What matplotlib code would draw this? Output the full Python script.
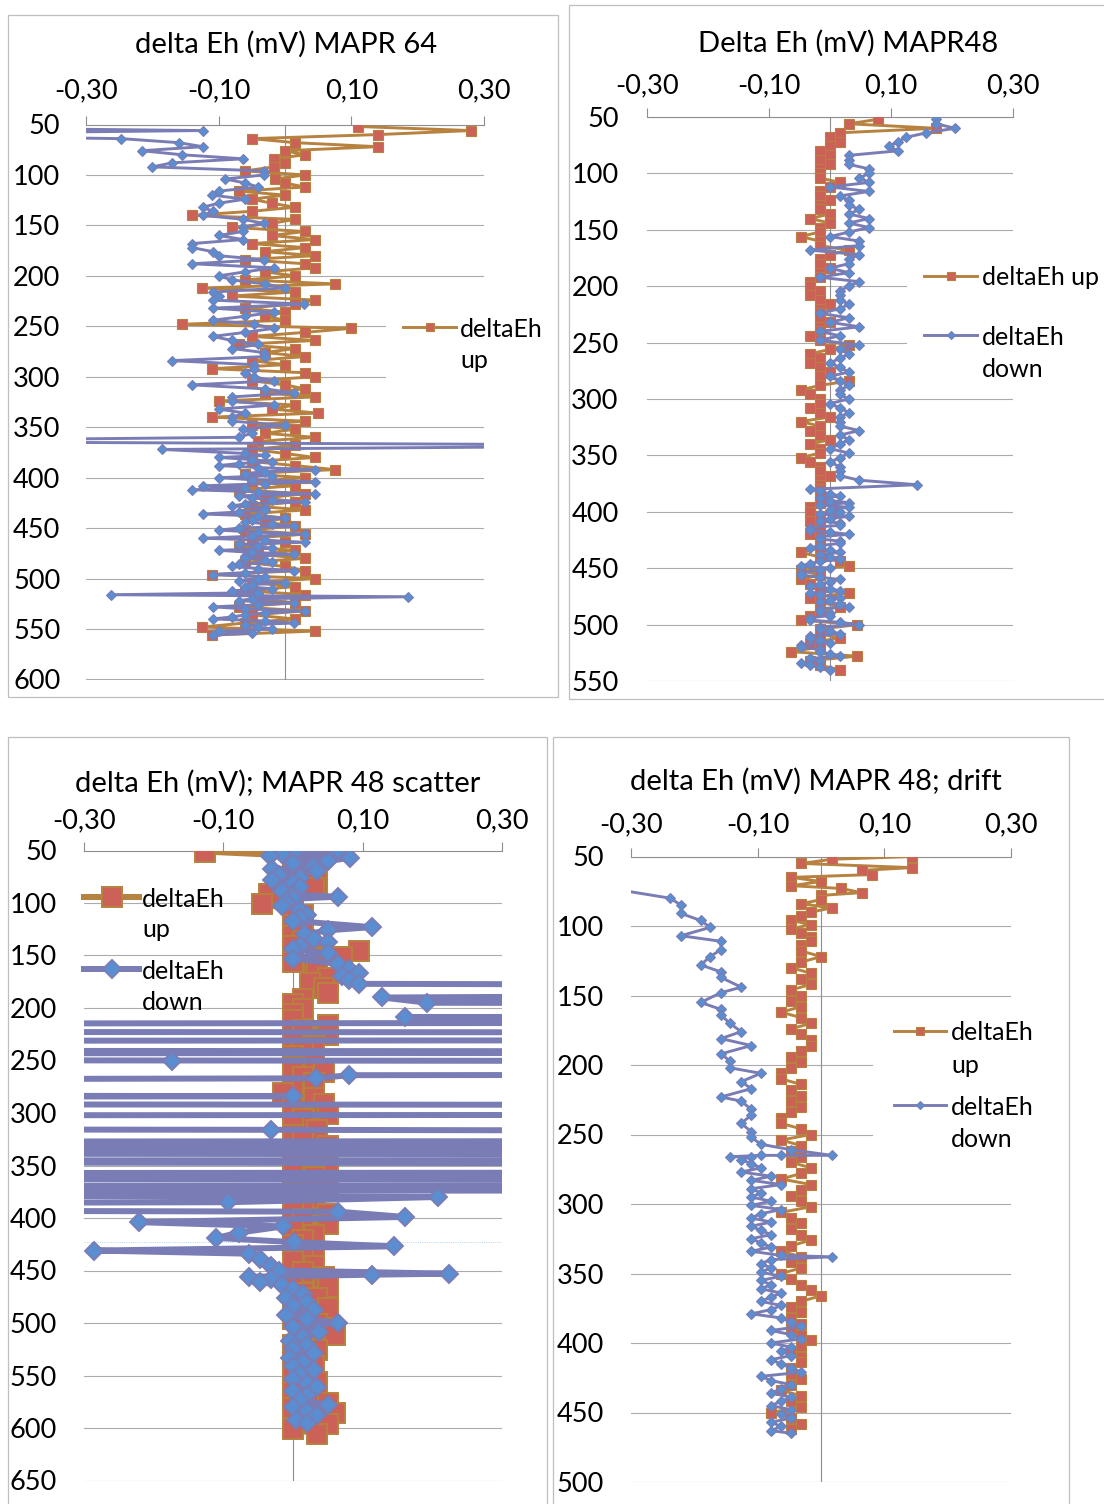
import matplotlib.pyplot as plt
from matplotlib.lines import Line2D
from matplotlib.patches import Rectangle
from matplotlib.ticker import FuncFormatter

plt.rcParams["font.family"] = ["Lato", "DejaVu Sans"]

# ---------------- data ----------------
# delta Eh (mV) MAPR 64
depth_64 = [52, 56, 60, 64, 68, 72, 76, 80, 84, 88,
            92, 96, 100, 104, 108, 112, 116, 120, 124, 128,
            132, 136, 140, 144, 148, 152, 156, 160, 164, 168,
            172, 176, 180, 184, 188, 192, 196, 200, 204, 208,
            212, 216, 220, 224, 228, 232, 236, 240, 244, 248,
            252, 256, 260, 264, 268, 272, 276, 280, 284, 288,
            292, 296, 300, 304, 308, 312, 316, 320, 324, 328,
            332, 336, 340, 344, 348, 352, 356, 360, 364, 368,
            372, 376, 380, 384, 388, 392, 396, 400, 404, 408,
            412, 416, 420, 424, 428, 432, 436, 440, 444, 448,
            452, 456, 460, 464, 468, 472, 476, 480, 484, 488,
            492, 496, 500, 504, 508, 512, 516, 520, 524, 528,
            532, 536, 540, 544, 548, 552, 556]
up_64 = [0.11, 0.28, 0.14, -0.05, 0.015, 0.14, 0.0, 0.03, -0.017, 0.0,
         -0.017, -0.06, 0.03, -0.015, 0.0, 0.03, -0.07, 0.0, -0.05, -0.02,
         0.015, -0.05, -0.14, 0.015, -0.02, -0.08, 0.03, -0.02, 0.045, -0.05,
         0.03, -0.03, 0.045, -0.06, 0.03, 0.045, -0.03, 0.015, -0.06, 0.075,
         -0.125, 0.015, -0.08, 0.045, 0.015, -0.06, 0.0, -0.03, 0.0, -0.155,
         0.1, 0.03, -0.05, 0.045, -0.07, 0.015, -0.03, 0.03, -0.05, 0.0,
         -0.11, 0.03, 0.045, -0.05, 0.0, 0.03, -0.03, 0.045, -0.1, 0.015,
         -0.02, 0.05, -0.11, 0.03, -0.05, 0.015, -0.03, 0.045, -0.04, 0.015,
         -0.05, 0.0, 0.045, -0.05, 0.015, 0.075, -0.06, 0.03, -0.05, 0.015,
         -0.07, 0.03, -0.03, 0.015, -0.05, 0.03, -0.06, 0.0, -0.03, 0.015,
         -0.06, 0.03, -0.05, 0.0, -0.07, 0.015, -0.04, 0.03, -0.06, 0.0,
         0.03, -0.11, 0.045, -0.05, 0.015, -0.06, 0.03, -0.04, 0.015, -0.07,
         0.03, -0.05, 0.015, -0.06, -0.125, 0.045, -0.11]
depth_64_down = [52, 56, 60, 64, 68, 72, 76, 80, 84, 88,
                 92, 96, 100, 104, 108, 112, 116, 120, 124, 128,
                 132, 136, 140, 144, 148, 152, 156, 160, 164, 168,
                 172, 176, 180, 184, 188, 192, 196, 200, 204, 208,
                 212, 216, 220, 224, 228, 232, 236, 240, 244, 248,
                 252, 256, 260, 264, 268, 272, 276, 280, 284, 288,
                 292, 296, 300, 304, 308, 312, 316, 320, 324, 328,
                 332, 336, 340, 344, 348, 352, 356, 360, 364, 368,
                 372,
                 376, 378, 380, 382, 384, 386, 388, 390, 392, 394,
                 396, 398, 400, 402, 404, 406, 408, 410, 412, 414,
                 416, 418, 420, 422, 424, 426, 428, 430, 432, 434,
                 436, 438, 440, 442, 444, 446, 448, 450, 452, 454,
                 456, 458, 460, 462, 464, 466, 468, 470, 472, 474,
                 476, 478, 480, 482, 484, 486, 488, 490, 492, 494,
                 496, 498, 500, 502, 504, 506, 508, 510, 512, 514,
                 516, 518, 520, 522, 524, 526, 528, 530, 532, 534,
                 536, 538, 540, 542, 544, 546, 548, 550, 552, 554,
                 556]
down_64 = [-0.7, -0.124, -0.7, -0.247, -0.16, -0.124, -0.216, -0.155, -0.063, -0.17,
           -0.2, -0.032, -0.032, -0.09, -0.06, -0.04, -0.1, -0.11, -0.06, -0.1,
           -0.124, -0.109, -0.124, -0.063, -0.032, -0.063, -0.063, -0.1, -0.063, -0.14,
           -0.14, -0.109, -0.1, -0.032, -0.14, -0.017, -0.06, -0.1, -0.08, -0.03,
           0.0, -0.109, -0.1, -0.109, 0.029, -0.109, -0.017, -0.06, -0.109, -0.047,
           -0.017, -0.06, -0.109, -0.08, -0.04, -0.08, -0.032, -0.03, -0.171, -0.047,
           -0.047, -0.06, -0.047, -0.017, -0.14, -0.03, 0.014, -0.08, -0.08, -0.017,
           -0.1, -0.06, -0.08, -0.08, 0.0, -0.063, -0.05, -0.07, -0.7, 0.7,
           -0.186,
           -0.06, -0.03, -0.1, -0.05, -0.02, -0.07, -0.1, -0.04, 0.045, -0.03,
           -0.06, -0.02, -0.1, -0.05, 0.045, -0.03, -0.124, -0.06, -0.14, -0.04,
           0.045, -0.07, -0.05, -0.02, 0.03, -0.06, -0.08, -0.03, -0.03, -0.07,
           -0.124, -0.04, 0.0, -0.05, -0.06, -0.02, 0.014, -0.07, -0.1, -0.04,
           0.03, -0.05, -0.124, -0.03, 0.03, -0.07, -0.04, -0.02, -0.1, -0.05,
           0.014, -0.06, -0.06, -0.03, -0.02, -0.07, -0.08, -0.04, 0.014, -0.06,
           -0.109, -0.03, -0.04, -0.07, 0.0, -0.05, -0.06, -0.02, -0.08, -0.04,
           -0.262, 0.185, -0.05, -0.07, 0.014, -0.04, -0.109, -0.06, 0.03, -0.03,
           -0.06, -0.08, -0.109, -0.03, 0.014, -0.06, -0.04, -0.02, -0.1, -0.05,
           -0.109]

# Delta Eh (mV) MAPR48
depth_48 = [52, 56, 60, 64, 68, 72, 76, 80, 84, 88,
            92, 96, 100, 104, 108, 112, 116, 120, 124, 128,
            132, 136, 140, 144, 148, 152, 156, 160, 164, 168,
            172, 176, 180, 184, 188, 192, 196, 200, 204, 208,
            212, 216, 220, 224, 228, 232, 236, 240, 244, 248,
            252, 256, 260, 264, 268, 272, 276, 280, 284, 288,
            292, 296, 300, 304, 308, 312, 316, 320, 324, 328,
            332, 336, 340, 344, 348, 352, 356, 360, 364, 368,
            372, 376, 380, 384, 388, 392, 396, 400, 404, 408,
            412, 416, 420, 424, 428, 432, 436, 440, 444, 448,
            452, 456, 460, 464, 468, 472, 476, 480, 484, 488,
            492, 496, 500, 504, 508, 512, 516, 520, 524, 528,
            532, 536, 540]
up_48 = [0.079, 0.031, 0.174, 0.016, 0.0, 0.016, 0.0, -0.017, 0.0, -0.017,
         0.0, -0.017, -0.017, -0.017, 0.016, 0.0, -0.017, -0.017, 0.0, -0.017,
         -0.017, 0.0, -0.033, 0.0, -0.017, -0.017, -0.048, -0.017, -0.017, 0.031,
         0.0, -0.017, -0.017, 0.0, -0.017, -0.017, -0.033, -0.033, -0.017, -0.033,
         -0.017, 0.0, -0.017, -0.017, -0.017, 0.0, -0.017, -0.017, -0.033, -0.017,
         0.031, 0.0, -0.033, -0.017, -0.033, -0.017, 0.0, -0.017, 0.031, -0.017,
         -0.048, -0.033, -0.017, -0.017, -0.033, -0.017, 0.0, -0.048, -0.017, -0.033,
         -0.017, 0.0, -0.033, -0.017, -0.017, -0.048, -0.033, -0.017, -0.017, 0.0,
         -0.017, -0.017, -0.017, -0.017, -0.017, -0.017, -0.033, -0.033, -0.017, -0.033,
         -0.017, -0.017, -0.033, -0.017, -0.017, -0.017, -0.048, -0.017, 0.016, 0.031,
         -0.048, -0.017, -0.048, -0.033, -0.017, 0.031, -0.033, -0.017, 0.016, -0.017,
         -0.033, -0.048, 0.045, -0.017, -0.017, 0.016, -0.033, -0.017, -0.064, 0.045,
         -0.033, -0.017, 0.016]
depth_48_down = [52, 56, 60, 64, 68, 72, 76, 80, 84, 88,
                 92, 96, 100, 104, 108, 112, 116, 120, 124, 128,
                 132, 136, 140, 144, 148, 152, 156, 160, 164, 168,
                 172, 176, 180, 184, 188, 192, 196, 200, 204, 208,
                 212, 216, 220, 224, 228, 232, 236, 240, 244, 248,
                 252, 256, 260, 264, 268, 272, 276, 280, 284, 288,
                 292, 296, 300, 304, 308, 312, 316, 320, 324, 328,
                 332, 336, 340, 344, 348, 352, 356, 360, 364, 368,
                 372, 376,
                 380, 382, 384, 386, 388, 390, 392, 394, 396, 398,
                 400, 402, 404, 406, 408, 410, 412, 414, 416, 418,
                 420, 422, 424, 426, 428, 430, 432, 434, 436, 438,
                 440, 442, 444, 446, 448, 450, 452, 454, 456, 458,
                 460, 462, 464, 466, 468, 470, 472, 474, 476, 478,
                 480, 482, 484, 486, 488, 490, 492, 494, 496, 498,
                 500, 502, 504, 506, 508, 510, 512, 514, 516, 518,
                 520, 522, 524, 526, 528, 530, 532, 534, 536, 538,
                 540]
down_48 = [0.174, 0.174, 0.205, 0.158, 0.125, 0.111, 0.096, 0.111, 0.031, 0.031,
           0.031, 0.064, 0.064, 0.048, 0.064, 0.0, 0.064, 0.016, 0.031, 0.031,
           0.048, 0.031, 0.064, 0.031, 0.064, 0.031, 0.0, 0.048, 0.048, -0.033,
           0.048, 0.031, 0.031, 0.0, 0.031, -0.017, 0.048, 0.031, 0.016, 0.016,
           0.016, 0.031, 0.016, -0.017, 0.031, 0.0, 0.048, -0.017, 0.016, -0.017,
           0.048, 0.016, 0.031, 0.016, 0.0, 0.016, 0.031, 0.0, 0.016, 0.031,
           0.016, 0.016, 0.031, 0.0, 0.016, 0.031, 0.016, 0.016, 0.016, 0.048,
           0.016, 0.031, 0.016, 0.0, 0.031, 0.016, 0.0, 0.016, 0.016, 0.016,
           0.048, 0.143,
           -0.033, -0.017, 0.0, 0.016, -0.017, 0.0, 0.031, -0.017, 0.031, 0.0,
           0.016, -0.017, 0.031, 0.0, -0.017, 0.016, 0.016, -0.033, -0.033, 0.0,
           0.031, -0.017, -0.017, 0.016, 0.016, -0.017, -0.033, 0.0, 0.016, -0.017,
           0.0, 0.016, -0.017, -0.033, -0.048, 0.0, -0.017, -0.048, -0.048, -0.017,
           0.016, 0.0, -0.017, -0.033, 0.0, 0.016, -0.033, -0.017, 0.016, 0.0,
           -0.017, 0.016, 0.031, -0.017, -0.017, 0.0, 0.0, -0.033, -0.033, 0.016,
           0.048, -0.017, -0.017, 0.0, 0.016, -0.033, -0.033, -0.017, 0.0, -0.048,
           -0.048, -0.017, -0.017, 0.0, 0.016, -0.033, -0.017, -0.048, -0.033, -0.017,
           0.0]

# delta Eh (mV); MAPR 48 scatter
depth_sc_up = [51, 56, 61, 66, 71, 76, 81, 86, 91, 96,
               101, 106, 111, 116, 121, 126, 131, 136, 141, 146,
               151, 156, 161, 166, 171, 176, 181, 186, 191, 196,
               201, 206, 211, 216, 221, 226, 231, 236, 241, 246,
               251, 256, 261, 266, 271, 276, 281, 286, 291, 296,
               301, 306, 311, 316, 321, 326, 331, 336, 341, 346,
               351, 356, 361, 366, 371, 376, 381, 386, 391, 396,
               401, 406, 411, 416, 421, 426, 431, 436, 441, 446,
               451, 456, 461, 466, 471, 476, 481, 486, 491, 496,
               501, 506, 511, 516, 521, 526, 531, 536, 541, 546,
               551, 556, 561, 566, 571, 576, 581, 586, 591, 596,
               601, 606]
up_sc = [-0.127, 0.035, 0.0, 0.03, 0.035, 0.0, 0.035, 0.03, -0.035, 0.0,
         -0.045, 0.0, 0.015, 0.0, 0.0, 0.015, 0.0, 0.015, 0.0, 0.095,
         0.07, 0.0, 0.03, 0.035, 0.05, 0.025, 0.045, 0.05, 0.015, 0.0,
         0.015, 0.0, 0.0, 0.05, 0.015, 0.05, 0.0, 0.03, 0.015, 0.0,
         0.03, 0.0, 0.045, 0.015, 0.03, 0.0, -0.015, 0.03, 0.045, 0.0,
         0.05, 0.015, 0.0, 0.035, 0.0, 0.015, 0.05, 0.0, 0.03, 0.015,
         0.05, 0.0, 0.03, 0.015, 0.05, 0.0, 0.03, 0.015, 0.0, 0.05,
         0.015, 0.05, 0.0, 0.03, 0.015, 0.0, 0.03, 0.015, 0.0, 0.03,
         0.015, 0.045, 0.0, 0.05, 0.015, 0.035, 0.0, 0.05, 0.015, 0.0,
         0.035, 0.05, 0.06, 0.015, 0.0, 0.035, 0.015, 0.0, 0.03, 0.015,
         0.0, 0.035, 0.015, 0.0, 0.035, 0.05, 0.0, 0.06, 0.015, 0.05,
         0.0, 0.035]
depth_sc_down = [50, 51, 53, 55, 57, 60, 62, 65, 68, 70,
                 73, 76, 78, 81, 85, 89, 92, 94, 96, 99,
                 103, 107, 111, 114, 117, 123, 126, 130, 134, 137,
                 141, 144, 148, 153, 158, 163, 167, 170, 173, 177,
                 181, 190, 195, 199, 209, 213, 216, 222, 224, 230,
                 232, 240, 242, 244, 248, 250, 252, 262, 264, 267,
                 271, 281, 284, 287, 291, 293, 301, 303, 314, 316,
                 320, 326, 328, 331, 333, 336, 338, 340, 344, 346,
                 349, 356, 358, 360, 362, 364, 368, 370, 373, 375,
                 380, 385, 389, 394, 399, 404, 408, 414, 419, 423,
                 427, 431, 434, 439, 446, 450, 453, 454, 456, 458,
                 461, 464, 468, 472, 476, 480, 484, 488, 492, 496,
                 500, 504, 509, 513, 517, 521, 525, 529, 533, 537,
                 541, 545, 549, 553, 557, 561, 565, 569, 573, 578,
                 580, 584, 588, 592, 595]
down_sc = [0.065, 0.002, -0.016, -0.033, 0.082, 0.05, 0.0, 0.03, -0.03, 0.035,
           -0.02, 0.01, -0.03, 0.0, 0.01, -0.016, 0.0, 0.065, 0.0, -0.01,
           -0.016, 0.01, 0.02, 0.01, 0.0, 0.113, 0.05, 0.017, 0.03, 0.05,
           0.01, 0.0, 0.05, 0.0, 0.065, 0.08, 0.095, 0.07, 0.08, 0.095,
           3.0, 0.128, 0.193, 3.0, 0.161, 3.0, -3.0, -3.0, 3.0, 3.0,
           -3.0, -3.0, 3.0, -3.0, -3.0, -0.174, 3.0, 3.0, 0.08, 0.033,
           -3.0, -3.0, 0.0, -3.0, -3.0, 3.0, 3.0, -3.0, -3.0, -0.031,
           3.0, 3.0, -3.0, -3.0, 3.0, 3.0, -3.0, 3.0, 3.0, -3.0,
           3.0, 3.0, -3.0, 3.0, -3.0, 3.0, 3.0, -3.0, 3.0, -3.0,
           0.208, -0.094, -3.0, 0.065, 0.161, -0.221, -0.014, -0.078, -0.11, 0.001,
           0.145, -0.285, -0.063, -0.047, -0.031, -0.02, 0.224, 0.113, -0.063, -0.031,
           -0.047, -0.016, 0.0, 0.015, -0.01, 0.02, 0.0, 0.03, -0.01, 0.02,
           0.065, 0.0, 0.037, 0.015, -0.005, 0.02, 0.0, 0.03, -0.005, 0.015,
           0.0, 0.03, 0.01, 0.0, 0.02, 0.035, 0.0, 0.02, 0.01, 0.05,
           0.0, 0.02, 0.035, 0.005, 0.02]
stray_line_depth = 423

# delta Eh (mV) MAPR 48; drift
depth_dr_up = [50, 52, 55, 58, 60, 63, 65, 68, 71, 73,
               76, 78, 81, 84, 87, 90, 93, 96, 99, 102,
               105, 108, 111, 114, 118, 122, 126, 130, 134, 138,
               142, 146, 150, 154, 158, 162, 166, 170, 174, 178,
               182, 186, 190, 194, 198, 202, 206, 210, 214, 218,
               222, 226, 230, 234, 238, 242, 246, 250, 254, 258,
               262, 266, 270, 274, 278, 282, 286, 290, 294, 298,
               302, 306, 310, 314, 318, 322, 326, 330, 334, 338,
               342, 346, 350, 354, 358, 362, 366, 370, 374, 378,
               382, 386, 390, 394, 398, 402, 406, 410, 414, 418,
               422, 426, 430, 434, 438, 442, 446, 450, 454, 458,
               462]
up_dr = [0.144, 0.017, -0.031, 0.144, 0.064, 0.08, -0.047, 0.0, -0.047, 0.032,
         0.064, 0.0, 0.0, -0.031, 0.017, -0.016, -0.031, -0.047, -0.016, -0.047,
         -0.031, -0.016, -0.016, -0.031, -0.031, 0.0, -0.031, -0.047, -0.016, -0.031,
         -0.016, -0.047, -0.031, -0.047, -0.031, -0.063, -0.031, -0.016, -0.047, -0.031,
         -0.016, -0.016, -0.031, -0.047, -0.031, -0.047, -0.063, -0.063, -0.031, -0.047,
         -0.031, -0.047, -0.031, -0.047, -0.063, -0.063, -0.031, -0.016, -0.063, -0.031,
         -0.047, -0.031, -0.047, -0.016, -0.031, -0.063, -0.016, -0.031, -0.047, -0.031,
         -0.016, -0.063, -0.047, -0.031, -0.047, -0.031, -0.016, -0.047, -0.063, -0.031,
         -0.047, -0.031, -0.063, -0.047, -0.031, -0.016, 0.0, -0.031, -0.047, -0.031,
         -0.047, -0.031, -0.047, -0.031, -0.016, -0.031, -0.047, -0.031, -0.031, -0.047,
         -0.047, -0.031, -0.047, -0.063, -0.031, -0.047, -0.031, -0.079, -0.047, -0.031,
         -0.047]
depth_dr_down = [68, 80, 85, 91, 96, 101, 107, 111, 117, 122,
                 128, 133, 137, 144, 148, 155, 160, 164, 170, 176,
                 181, 186, 192, 197, 202, 206, 212, 217, 223, 226,
                 232, 236, 242, 248, 252, 257, 261, 265, 265, 265,
                 266, 266, 268, 271, 274, 277, 280, 283, 286, 289,
                 292, 295, 298, 301, 304, 307, 310, 313, 316, 319,
                 322, 325, 328, 331, 334, 337, 338, 340, 343, 346,
                 349, 352, 355, 358, 361, 364, 367, 370, 373, 376,
                 379, 382, 385, 388, 391, 394, 397, 400, 403, 406,
                 409, 412, 415, 418, 421, 424, 427, 430, 433, 436,
                 439, 442, 445, 448, 451, 454, 457, 460, 463, 465]
down_dr = [-0.4, -0.238, -0.221, -0.221, -0.19, -0.175, -0.221, -0.158, -0.158, -0.175,
           -0.19, -0.158, -0.158, -0.126, -0.158, -0.19, -0.158, -0.158, -0.144, -0.126,
           -0.158, -0.11, -0.158, -0.144, -0.144, -0.095, -0.126, -0.11, -0.158, -0.126,
           -0.11, -0.11, -0.126, -0.11, -0.11, -0.095, -0.047, 0.017, -0.063, -0.095,
           -0.144, -0.11, -0.126, -0.11, -0.095, -0.126, -0.079, -0.11, -0.063, -0.11,
           -0.095, -0.11, -0.079, -0.11, -0.063, -0.095, -0.11, -0.079, -0.11, -0.095,
           -0.079, -0.11, -0.095, -0.079, -0.11, -0.063, 0.017, -0.079, -0.095, -0.079,
           -0.095, -0.063, -0.095, -0.079, -0.095, -0.063, -0.079, -0.095, -0.063, -0.079,
           -0.11, -0.063, -0.047, -0.031, -0.079, -0.047, -0.031, -0.079, -0.047, -0.063,
           -0.047, -0.079, -0.063, -0.047, -0.031, -0.095, -0.079, -0.047, -0.063, -0.079,
           -0.047, -0.063, -0.079, -0.047, -0.063, -0.047, -0.079, -0.063, -0.079, -0.047]

x_ticks = [-0.30, -0.10, 0.10, 0.30]
titles = ["delta Eh (mV) MAPR 64", "Delta Eh (mV) MAPR48",
          "delta Eh (mV); MAPR 48 scatter", "delta Eh (mV) MAPR 48; drift"]
label_up = "deltaEh up"
label_down = "deltaEh down"

# ---------------- look ----------------
W, H = 1104, 1504
UP_LINE = "#B7813F"
UP_FACE = "#CC6157"
DN_LINE = "#7A7DB5"
DN_FACE = "#5A8ED0"
GRID = "#ABABAB"
AXIS = "#8E8E8E"
FRAME = "#BFBFBF"
FS_TITLE = 21
FS_TICK = 19.5
FS_LEG = 18


def fxy(x, y):
    return x / W, 1 - y / H


def rect(x0, y0, x1, y1):
    return [x0 / W, 1 - y1 / H, (x1 - x0) / W, (y1 - y0) / H]


def setup_axis(ax, ymax, xpad, ypad):
    ax.set_xlim(-0.3, 0.3)
    ax.set_ylim(ymax, 50)
    ax.set_xticks(x_ticks)
    ax.xaxis.set_major_formatter(FuncFormatter(lambda v, p: f"{v:.2f}".replace(".", ",")))
    ax.set_yticks(list(range(50, ymax + 1, 50)))
    ax.tick_params(axis="x", top=True, bottom=False, labeltop=True, labelbottom=False,
                   direction="out", length=6.5, width=0.8, color=AXIS, pad=xpad,
                   labelsize=FS_TICK)
    ax.tick_params(axis="y", left=False, right=False, length=0, pad=ypad,
                   labelsize=FS_TICK)
    for s in ["left", "right", "bottom"]:
        ax.spines[s].set_visible(False)
    ax.spines["top"].set_color(AXIS)
    ax.spines["top"].set_linewidth(0.8)
    ax.yaxis.grid(True, color=GRID, lw=0.8)
    ax.set_axisbelow(True)
    ax.axvline(0, color=AXIS, lw=0.8, zorder=1)
    ax.patch.set_alpha(0)
    return ax


def plot_pair(ax, up, d_up, dn, d_dn, lw, ms_sq, ms_dm, mew):
    ax.plot(up, d_up, color=UP_LINE, lw=lw, marker="s", ms=ms_sq, mfc=UP_FACE,
            mec=UP_LINE, mew=mew, zorder=3)
    ax.plot(dn, d_dn, color=DN_LINE, lw=lw, marker="D", ms=ms_dm, mfc=DN_FACE,
            mec=DN_LINE, mew=mew, zorder=4)


def frame(fig, x0, y0, x1, y1):
    fig.add_artist(Rectangle(fxy(x0, y1), (x1 - x0) / W, (y1 - y0) / H,
                             transform=fig.transFigure, fill=False,
                             edgecolor=FRAME, lw=0.9, zorder=0.5))


def white_box(fig, x0, y0, x1, y1):
    fig.add_artist(Rectangle(fxy(x0, y1), (x1 - x0) / W, (y1 - y0) / H,
                             transform=fig.transFigure, facecolor="white",
                             edgecolor="none", zorder=1))


def legend_entry(fig, x0, x1, y, up, lw, ms, mew, tx, lines, baselines):
    color = UP_LINE if up else DN_LINE
    face = UP_FACE if up else DN_FACE
    marker = "s" if up else "D"
    (lx0, ly), (lx1, _) = fxy(x0, y), fxy(x1, y)
    fig.add_artist(Line2D([lx0, lx1], [ly, ly], transform=fig.transFigure,
                          color=color, lw=lw, zorder=2))
    fig.add_artist(Line2D([(lx0 + lx1) / 2], [ly], transform=fig.transFigure,
                          marker=marker, ms=ms, mfc=face, mec=color, mew=mew,
                          ls="none", zorder=2.5))
    for word, b in zip(lines, baselines):
        fig.text(tx / W, 1 - b / H, word, fontsize=FS_LEG, va="baseline",
                 ha="left", zorder=3)


def title(fig, cx, baseline, text):
    fig.text(cx / W, 1 - baseline / H, text, fontsize=FS_TITLE, ha="center",
             va="baseline")


if __name__ == "__main__":
    fig = plt.figure(figsize=(W / 100, H / 100), dpi=100, facecolor="white")

    up_words = label_up.split(" ")
    dn_words = label_down.split(" ")
    lw_thin, sq, dm = 2.1, 7.2, 5.0

    # panel 1: MAPR 64
    frame(fig, 8, 15, 558, 697)
    ax1 = setup_axis(fig.add_axes(rect(86, 124.5, 484, 679.5)), 600, 9, 18.5)
    plot_pair(ax1, up_64, depth_64, down_64, depth_64_down, lw_thin, sq, dm, 0.8)
    title(fig, 286, 52.5, titles[0])
    white_box(fig, 386, 290, 556, 385)
    legend_entry(fig, 403, 456, 327, True, lw_thin, 5.5, 0.8, 460, up_words, [337, 368])

    # panel 2: MAPR48
    frame(fig, 569, 5, 1110, 699)
    ax2 = setup_axis(fig.add_axes(rect(647, 117, 1013, 681)), 550, 7, 20.5)
    plot_pair(ax2, up_48, depth_48, down_48, depth_48_down, lw_thin, sq, dm, 0.8)
    title(fig, 848, 51.5, titles[1])
    white_box(fig, 907, 240, 1103, 392)
    legend_entry(fig, 924, 977, 276, True, lw_thin, 5.5, 0.8, 982, [label_up], [285])
    legend_entry(fig, 924, 977, 335, False, lw_thin, 3.8, 0.8, 982, dn_words, [345, 377])

    # panel 3: MAPR 48 scatter
    frame(fig, 8, 737, 547, 1510)
    ax3 = setup_axis(fig.add_axes(rect(84, 850.5, 502, 1480.5)), 650, 6, 19.5)
    ax3.axhline(stray_line_depth, color="#9DC3E6", lw=0.6, ls=":", zorder=2)
    plot_pair(ax3, up_sc, depth_sc_up, down_sc, depth_sc_down, 4.3, 14.0, 9.6, 1.4)
    title(fig, 278, 792, titles[2])
    legend_entry(fig, 84, 139, 897, True, 4.3, 14.0, 1.4, 142, up_words, [907, 937])
    legend_entry(fig, 84, 139, 969, False, 4.3, 9.6, 1.4, 142, dn_words, [979, 1010])

    # panel 4: MAPR 48; drift
    frame(fig, 553, 737, 1069, 1510)
    ax4 = setup_axis(fig.add_axes(rect(631, 856.5, 1011, 1482)), 500, 7.5, 19.5)
    plot_pair(ax4, up_dr, depth_dr_up, down_dr, depth_dr_down, lw_thin, sq, dm, 0.8)
    title(fig, 816, 790, titles[3])
    white_box(fig, 873, 1005, 1060, 1165)
    legend_entry(fig, 894, 946, 1031, True, lw_thin, 5.5, 0.8, 951, up_words, [1040, 1073])
    legend_entry(fig, 894, 946, 1105, False, lw_thin, 3.8, 0.8, 951, dn_words, [1115, 1147])

    fig.savefig("out.png", dpi=100, facecolor="white")
